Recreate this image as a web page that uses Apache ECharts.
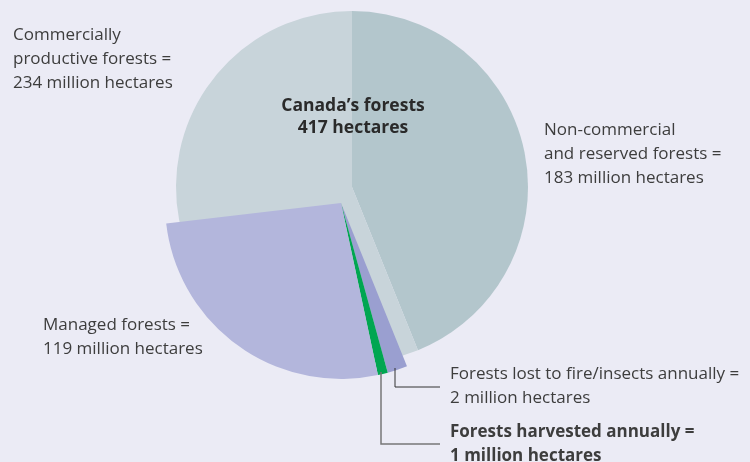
<!DOCTYPE html>
<html>
<head>
<meta charset="utf-8">
<script src="https://cdn.jsdelivr.net/npm/echarts@6/dist/echarts.min.js"></script>
<style>
  html, body { margin: 0; padding: 0; background: #ebebf5; }
  #chart { width: 750px; height: 462px; }
</style>
</head>
<body>
<div id="chart"></div>
<script>
// 森林面积（百万公顷）
const totalLabel = ['Canada’s forests', '417 hectares']
const mainNames = ['Non-commercial and reserved forests', 'Commercially productive forests']
const mainValues = [183, 234]
// 商业林中突出显示的部分（顺时针：火灾/虫害、采伐、管理）
const smallNames = ['Forests lost to fire/insects annually', 'Forests harvested annually']
const smallValues = [2, 1]
const managedName = 'Managed forests'
const managedValue = 119
const labelTexts = {
  commercial: ['Commercially', 'productive forests =', '234 million hectares'],
  nonCommercial: ['Non-commercial', 'and reserved forests =', '183 million hectares'],
  managed: ['Managed forests =', '119 million hectares'],
  lost: ['Forests lost to fire/insects annually =', '2 million hectares'],
  harvested: ['Forests harvested annually =', '1 million hectares']
}

const colors = {
  nonCommercial: '#b3c6cc',
  commercial: '#c8d4da',
  lost: '#9a9fd0',
  harvested: '#00a651',
  managed: '#b3b6dc'
}
const textColor = '#3d3d3d'
const font = '17px "Open Sans", sans-serif'

// 角度：ECharts 以 3 点钟方向为 0°，逆时针为正
const total = mainValues[0] + mainValues[1]
const groupValue = smallValues[0] + smallValues[1] + managedValue
const groupStart = 90 - 360 * mainValues[0] / total
const groupEnd = groupStart - 360 * groupValue / total
const smallSpan = 9.9 // 小扇区放大显示（原图即如此）
const smallEnd = groupStart - smallSpan

const offsetCenter = [341, 203] // 突出的一组整体平移

const chart = echarts.init(document.getElementById('chart'))

function textEl(lines, x, y, bold) {
  return {
    type: 'text',
    x: x, y: y, z: 100,
    style: {
      text: lines.join('\n'),
      font: (bold ? 'bold ' : '') + font,
      fill: textColor,
      lineHeight: 24,
      verticalAlign: 'top'
    }
  }
}

chart.setOption({
  backgroundColor: '#ebebf5',
  animation: false,
  series: [
    {
      type: 'pie',
      silent: true,
      center: [352, 187],
      radius: 176,
      startAngle: 90,
      label: { show: false },
      data: [
        { name: mainNames[0], value: mainValues[0], itemStyle: { color: colors.nonCommercial } },
        { name: mainNames[1], value: mainValues[1], itemStyle: { color: colors.commercial } }
      ]
    },
    {
      type: 'pie',
      silent: true,
      center: offsetCenter,
      radius: 176,
      startAngle: groupStart,
      endAngle: smallEnd,
      label: { show: false },
      data: [
        { name: smallNames[0], value: smallValues[0], itemStyle: { color: colors.lost } },
        { name: smallNames[1], value: smallValues[1], itemStyle: { color: colors.harvested } }
      ]
    },
    {
      type: 'pie',
      silent: true,
      center: offsetCenter,
      radius: 176,
      startAngle: smallEnd,
      endAngle: groupEnd,
      label: { show: false },
      data: [
        { name: managedName, value: managedValue, itemStyle: { color: colors.managed } }
      ]
    }
  ],
  graphic: [
    {
      type: 'text',
      x: 353, y: 95, z: 100,
      style: {
        text: totalLabel.join('\n'),
        font: 'bold 17.5px "Open Sans", sans-serif',
        fill: '#2a2a2a',
        lineHeight: 22,
        align: 'center',
        verticalAlign: 'top'
      }
    },
    textEl(labelTexts.commercial, 13, 23),
    textEl(labelTexts.nonCommercial, 544, 118),
    textEl(labelTexts.managed, 43, 313),
    textEl(labelTexts.lost, 450, 362),
    textEl(labelTexts.harvested, 450, 420, true),
    {
      type: 'polyline', z: 100,
      shape: { points: [[395, 368], [395, 387], [440, 387]] },
      style: { stroke: '#333', lineWidth: 1, fill: null }
    },
    {
      type: 'polyline', z: 100,
      shape: { points: [[381, 372], [381, 444], [440, 444]] },
      style: { stroke: '#777', lineWidth: 1.5, fill: null }
    }
  ]
})
</script>
</body>
</html>
